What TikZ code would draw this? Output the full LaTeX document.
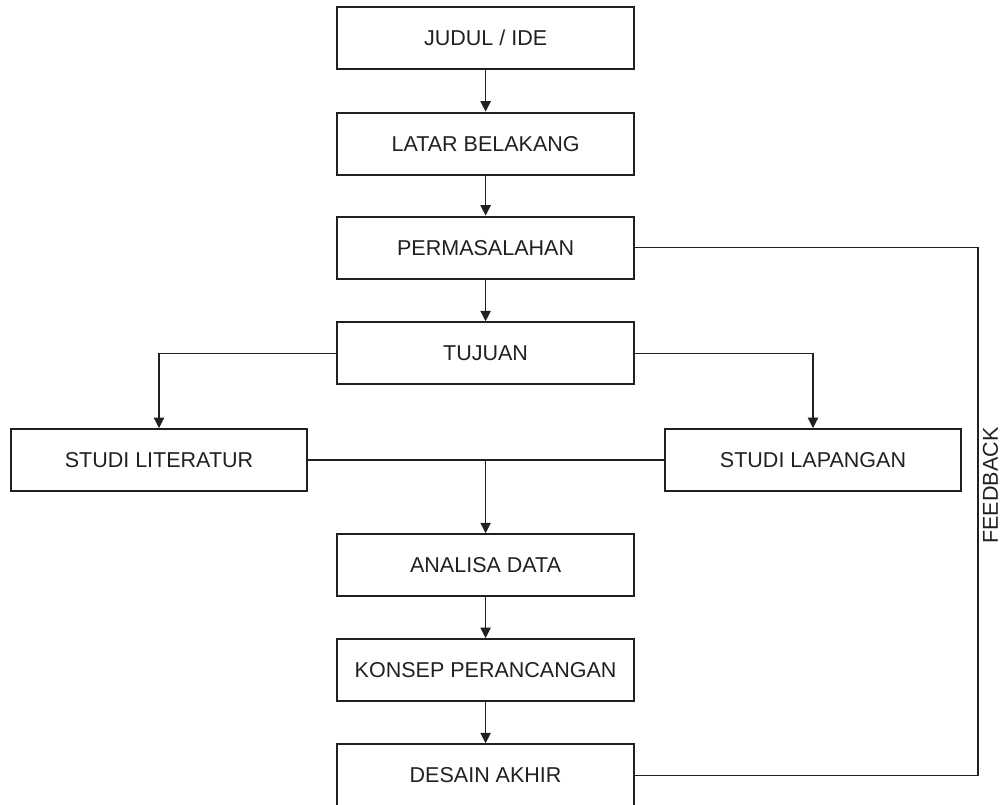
\documentclass[tikz,border=0pt]{standalone}
\usepackage{fontspec}
\setmainfont{Liberation Sans}
\usetikzlibrary{arrows.meta}
\usetikzlibrary{calc,positioning}

\definecolor{ink}{HTML}{231F20}

\begin{document}
\begin{tikzpicture}[
        box/.style={draw=ink, line width=1.4pt, minimum width=7.42cm, minimum height=1.55cm, inner sep=0pt, text=ink, font=\fontsize{15.3}{18}\selectfont},
        link/.style={draw=ink, line width=0.8pt},
        flow/.style={link, -{Triangle[length=0.26cm,width=0.26cm]}}
    ]
        \useasboundingbox (0,0) rectangle (25.075,-20.125);

        \node[box] (judul) at (12.14,-0.95) {JUDUL / IDE};
        \node[box] (latar) at (12.14,-3.59) {LATAR BELAKANG};
        \node[box] (masalah) at (12.14,-6.19) {PERMASALAHAN};
        \node[box] (tujuan) at (12.14,-8.83) {TUJUAN};
        \node[box, minimum width=7.4cm] (literatur) at (3.975,-11.5) {STUDI LITERATUR};
        \node[box, minimum width=7.4cm] (lapangan) at (20.325,-11.5) {STUDI LAPANGAN};
        \node[box] (analisa) at (12.14,-14.13) {ANALISA DATA};
        \node[box] (konsep) at (12.14,-16.75) {KONSEP PERANCANGAN};
        \node[box] (desain) at (12.14,-19.38) {DESAIN AKHIR};

        \coordinate (fb) at (24.45,0);
        \node[rotate=90, text=ink, font=\fontsize{15.3}{18}\selectfont] (feedback) at (24.76,-12.14) {FEEDBACK};

        \draw[flow] (judul) -- (latar);
        \draw[flow] (latar) -- (masalah);
        \draw[flow] (masalah) -- (tujuan);
        \draw[flow] (tujuan.west) -| (literatur.north);
        \draw[flow] (tujuan.east) -| (lapangan.north);
        \draw[link] (literatur.east) -- (lapangan.west);
        \draw[flow] (literatur.east -| analisa.north) -- (analisa.north);
        \draw[flow] (analisa) -- (konsep);
        \draw[flow] (konsep) -- (desain);
        \draw[link] (masalah.east) -- (masalah.east -| fb) |- (desain.east);
    \end{tikzpicture}
\end{document}
